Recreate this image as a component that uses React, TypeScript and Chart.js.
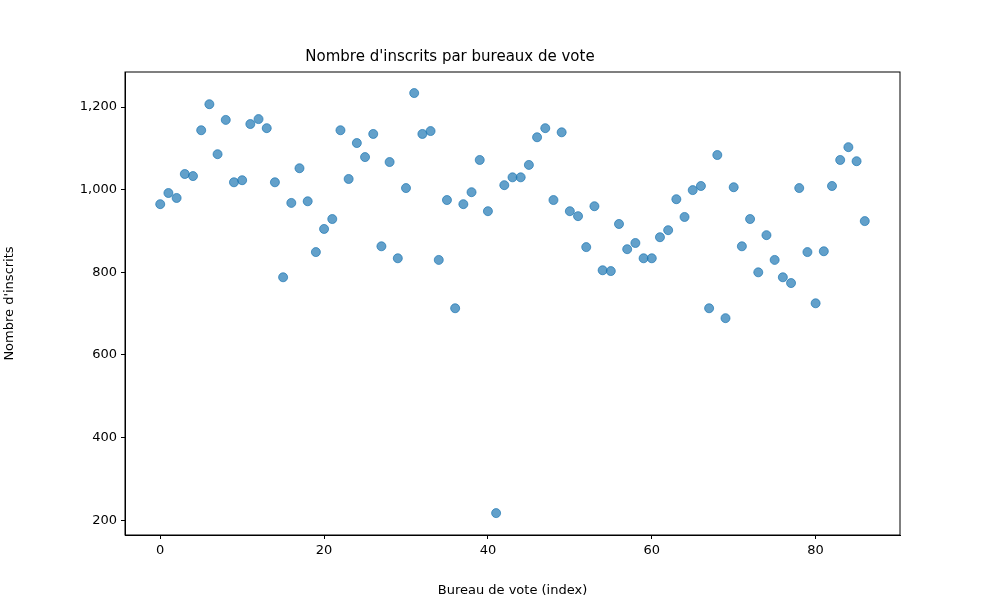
import { Chart, registerables } from 'chart.js';
import { useEffect, useRef } from 'react';

Chart.register(...registerables);

const inscrits = [
  965, 992, 980, 1038, 1033, 1144, 1207, 1086, 1169, 1018,
  1023, 1159, 1171, 1149, 1018, 788, 968, 1052, 972, 849,
  905, 929, 1144, 1026, 1113, 1079, 1135, 863, 1067, 834,
  1004, 1234, 1135, 1142, 830, 975, 713, 965, 994, 1072,
  948, 217, 1011, 1030, 1030, 1060, 1127, 1149, 975, 1139,
  948, 936, 861, 960, 805, 803, 917, 856, 871, 834,
  834, 885, 902, 977, 934, 999, 1009, 713, 1084, 689,
  1006, 863, 929, 800, 890, 830, 788, 774, 1004, 849,
  725, 851, 1009, 1072, 1103, 1069, 924,
];
const xTicks = [0, 20, 40, 60, 80];
const yTicks = [200, 400, 600, 800, 1000, 1200];

const frame = {
  id: 'frame',
  afterDraw(chart: any) {
    const { ctx, chartArea: a } = chart;
    ctx.save();
    ctx.strokeStyle = '#000';
    ctx.lineWidth = 1;
    ctx.strokeRect(a.left, a.top, a.right - a.left, a.bottom - a.top);
    ctx.restore();
  },
};

export default function App() {
  const ref = useRef<HTMLCanvasElement>(null);

  useEffect(() => {
    document.body.style.margin = '0';
    if (!ref.current) return;
    const font = { family: 'DejaVu Sans', size: 13 };
    const axis = (min: number, max: number, ticks: number[], title: string, isX: boolean) => ({
      type: 'linear' as const,
      min,
      max,
      afterBuildTicks: (s: any) => { s.ticks = ticks.map((v) => ({ value: v })); },
      afterFit: (s: any) => { if (isX) s.height = 65; else s.width = 125; },
      grid: { drawOnChartArea: false, tickLength: 4, tickColor: '#000' },
      border: { color: '#000' },
      ticks: { color: '#000', font, padding: 4 },
      title: { display: true, text: title, color: '#000', font, padding: 2 },
    });
    const chart = new Chart(ref.current, {
      type: 'scatter',
      data: {
        datasets: [{
          label: 'inscrits',
          data: inscrits.map((v, i) => ({ x: i, y: v })),
          backgroundColor: 'rgba(31,119,180,0.7)',
          borderColor: 'rgba(31,119,180,0.7)',
          pointRadius: 4.5,
        }],
      },
      options: {
        animation: false,
        responsive: false,
        layout: { padding: { left: 0, right: 100, top: 0, bottom: 0 } },
        plugins: {
          legend: { display: false },
          tooltip: { enabled: false },
          title: {
            display: true,
            text: "Nombre d'inscrits par bureaux de vote",
            color: '#000',
            font: { family: 'DejaVu Sans', size: 15, weight: 'normal' },
            padding: { top: 48, bottom: 6 },
          },
        },
        scales: {
          x: axis(-4.3, 90.3, xTicks, 'Bureau de vote (index)', true),
          y: axis(164, 1285, yTicks, "Nombre d'inscrits", false),
        },
      },
      plugins: [frame],
    });
    return () => chart.destroy();
  }, []);

  return <canvas ref={ref} width={1000} height={600} style={{ display: 'block' }} />;
}
